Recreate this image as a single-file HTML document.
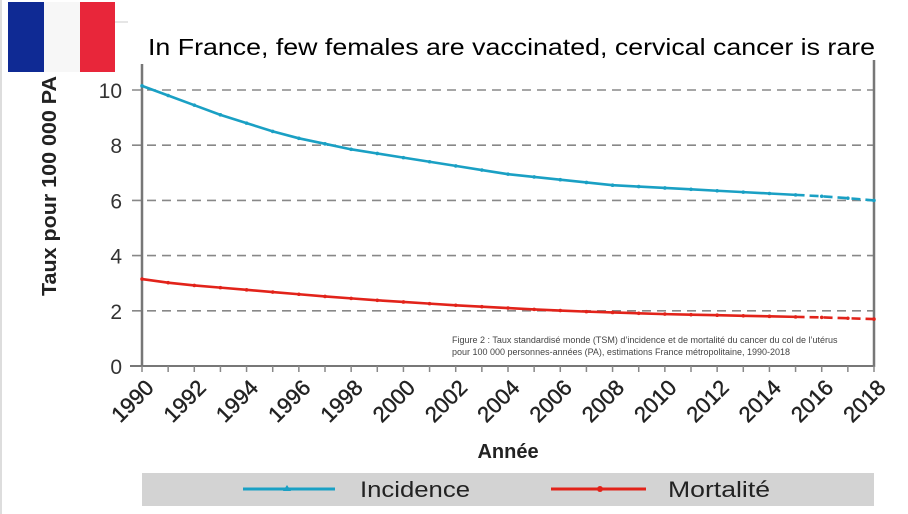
<!DOCTYPE html>
<html><head><meta charset="utf-8"><style>
body{margin:0;background:#fff;}
svg{display:block;}
</style></head><body>
<svg id="s" width="908" height="514" xmlns="http://www.w3.org/2000/svg" font-family="Liberation Sans, Arial, sans-serif">
<rect x="0" y="0" width="908" height="514" fill="#fff"/>
<rect x="0" y="0" width="2" height="514" fill="#ddd"/>
<rect x="8" y="2" width="36" height="70" fill="#0f2a94"/>
<rect x="44" y="2" width="36" height="70" fill="#f7f7f7"/>
<rect x="80" y="2" width="35" height="70" fill="#e8263a"/>
<line x1="115" y1="22" x2="128" y2="22" stroke="#ccc"/>
<text x="148" y="55" font-size="23" fill="#000" textLength="727" lengthAdjust="spacingAndGlyphs">In France, few females are vaccinated, cervical cancer is rare</text>
<g id="grid" stroke="#888" stroke-width="1.6" stroke-dasharray="9,6"></g>
<line x1="142" y1="64" x2="142" y2="367" stroke="#777" stroke-width="2.5"/>
<line x1="874" y1="60" x2="874" y2="367" stroke="#777" stroke-width="2.5"/>
<line x1="130" y1="366" x2="875" y2="366" stroke="#777" stroke-width="2"/>
<g id="ticks" stroke="#888" stroke-width="1.5"></g>
<g id="ylab" font-size="21" fill="#333" text-anchor="end"></g>
<text transform="translate(56,186) rotate(-90)" text-anchor="middle" font-size="20" font-weight="bold" fill="#222" textLength="220" lengthAdjust="spacingAndGlyphs">Taux pour 100 000 PA</text>
<g id="series"></g>
<text x="452" y="343" font-size="9" fill="#444">Figure 2 : Taux standardisé monde (TSM) d’incidence et de mortalité du cancer du col de l’utérus</text>
<text x="452" y="355" font-size="9" fill="#444">pour 100 000 personnes-années (PA), estimations France métropolitaine, 1990-2018</text>
<g id="xlab" font-size="22" fill="#222" text-anchor="end" stroke="#222" stroke-width="0.4"></g>
<text x="508" y="458" font-size="20" font-weight="bold" fill="#222" text-anchor="middle">Année</text>
<rect x="142" y="473" width="732" height="33" fill="#d3d3d3"/>
<line x1="243" y1="489" x2="335" y2="489" stroke="#1aa0c4" stroke-width="3"/>
<polygon points="287,485 291,491 283,491" fill="#1aa0c4"/>
<text x="360" y="497" font-size="22" fill="#222" textLength="110" lengthAdjust="spacingAndGlyphs">Incidence</text>
<line x1="551" y1="489" x2="646" y2="489" stroke="#e2231a" stroke-width="3"/>
<circle cx="600" cy="489" r="3" fill="#e2231a"/>
<text x="668" y="497" font-size="22" fill="#222" textLength="102" lengthAdjust="spacingAndGlyphs">Mortalité</text>
</svg>
<script>
var X=function(y){return 142+(y-1990)*732/28;}, Y=function(v){return 366-v*27.6;};
var ns="http://www.w3.org/2000/svg";
function el(p,t,a,txt){var e=document.createElementNS(ns,t);for(var k in a)e.setAttribute(k,a[k]);if(txt!=null)e.textContent=txt;document.getElementById(p).appendChild(e);return e;}
[2,4,6,8,10].forEach(function(v){el("grid","line",{x1:132,x2:874,y1:Y(v),y2:Y(v)});});
[0,2,4,6,8,10].forEach(function(v){el("ylab","text",{x:122,y:Y(v)+8},v);});
for(var y=1990;y<=2018;y++)el("ticks","line",{x1:X(y),x2:X(y),y1:366,y2:372});
for(var y=1990;y<=2018;y+=2)el("xlab","text",{transform:"translate("+(X(y)+13)+",389) rotate(-45)"},y);
var inc=[10.15,9.8,9.45,9.1,8.8,8.5,8.25,8.05,7.85,7.7,7.55,7.4,7.25,7.1,6.95,6.85,6.75,6.65,6.55,6.5,6.45,6.4,6.35,6.3,6.25,6.2,6.15,6.08,6.0];
var mor=[3.15,3.02,2.92,2.84,2.76,2.68,2.6,2.52,2.45,2.38,2.32,2.26,2.2,2.15,2.1,2.05,2.01,1.97,1.94,1.91,1.88,1.86,1.84,1.82,1.8,1.78,1.76,1.73,1.7];
function draw(d,c){
 var a=[],b=[];for(var i=0;i<d.length;i++){var p=X(1990+i)+","+Y(d[i]);if(i<=25)a.push(p);if(i>=25)b.push(p);
  el("series","circle",{cx:X(1990+i),cy:Y(d[i]),r:1.8,fill:c});}
 el("series","polyline",{points:a.join(" "),fill:"none",stroke:c,"stroke-width":2.6});
 el("series","polyline",{points:b.join(" "),fill:"none",stroke:c,"stroke-width":2.6,"stroke-dasharray":"9,5"});
}
draw(inc,"#1aa0c4");draw(mor,"#e2231a");
</script>
</body></html>
